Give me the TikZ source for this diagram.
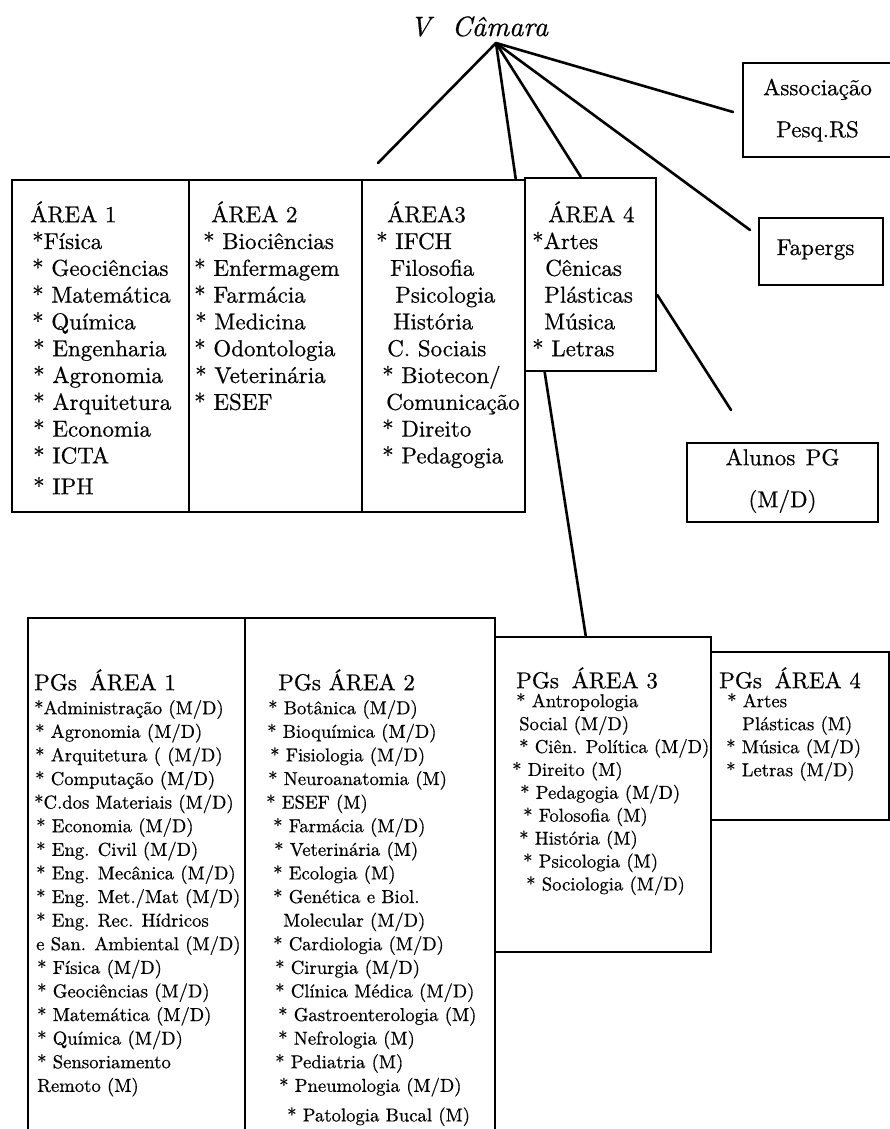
\documentclass[tikz,border=0pt]{standalone}
\usepackage{fontspec}
\setmainfont{lmroman10-regular.otf}[ItalicFont=lmroman10-italic.otf, FakeBold=0.6]
\usetikzlibrary{calc}
\newcommand\ts{\rule{0pt}{24pt}}
\begin{document}
\begin{tikzpicture}[x=1pt,y=-1pt]
\tikzset{
 bx/.style={draw=black,line width=2.6pt,inner sep=0pt},
 ln/.style={line width=2.6pt,line cap=round},
 big/.style={font=\fontsize{23}{26.8}\selectfont},
 small/.style={font=\fontsize{18.7}{23.6}\selectfont},
 txt/.style={anchor=north west,inner sep=0pt,align=left},
}
\fill[white] (0,0) rectangle (890,1129);
\useasboundingbox (0,0) rectangle (890,1129);
\clip (0,0) rectangle (890,1129);

% title
\node[anchor=base,inner sep=0pt,font=\fontsize{28}{32}\selectfont\itshape] (title) at (479,36) {V\hspace{0.75em}Câmara};
\coordinate (apex) at (496,43);

% area boxes
\node[bx,minimum width=177pt,minimum height=332pt] (a1) at (100.5,346) {};
\node[bx,minimum width=173pt,minimum height=332pt] (a2) at (275.5,346) {};
\node[bx,minimum width=163pt,minimum height=332pt] (a3) at (443.5,346) {};
\node[bx,minimum width=131pt,minimum height=193pt] (a4) at (590.5,274.5) {};

\node[txt,big] (a1t) at (30,198) {\ts ÁREA 1\\
\hspace*{2pt}*Física\\
\hspace*{2pt}* Geociências\\
\hspace*{2pt}* Matemática\\
\hspace*{2pt}* Química\\
\hspace*{3pt}* Engenharia\\
\hspace*{3pt}* Agronomia\\
\hspace*{3pt}* Arquitetura\\
\hspace*{3pt}* Economia\\
\hspace*{3pt}* ICTA\\[4pt]
\hspace*{3pt}* IPH};

\node[txt,big] (a2t) at (194,198) {\ts\hspace*{17pt}ÁREA 2\\
\hspace*{9pt}* Biociências\\
* Enfermagem\\
* Farmácia\\
\hspace*{1pt}* Medicina\\
* Odontologia\\
\hspace*{1pt}* Veterinária\\
* ESEF};

\node[txt,big] (a3t) at (376,198) {\ts\hspace*{11pt}ÁREA3\\
* IFCH\\
\hspace*{14pt}Filosofia\\
\hspace*{19pt}Psicologia\\
\hspace*{17pt}História\\
\hspace*{11pt}C. Sociais\\
\hspace*{6pt}* Biotecon/\\
\hspace*{10pt}Comunicação\\
\hspace*{6pt}* Direito\\
\hspace*{6pt}* Pedagogia};

\node[txt,big] (a4t) at (532,198) {\ts\hspace*{16pt}ÁREA 4\\
*Artes\\
\hspace*{13pt}Cênicas\\
\hspace*{12pt}Plásticas\\
\hspace*{12pt}Música\\
* Letras};

% right boxes
\node[bx,minimum width=157pt,minimum height=94pt] (assoc) at (821.5,110) {};
\node[txt,anchor=north,align=center,font=\fontsize{23}{42}\selectfont] (assoct) at (817.5,71) {\ts Associação\\Pesq.RS};
\node[bx,minimum width=124pt,minimum height=67pt] (fap) at (821,251.5) {};
\node[anchor=base,inner sep=0pt,big] (fapt) at (815.5,255) {Fapergs};
\node[bx,minimum width=191pt,minimum height=79pt] (alunos) at (782.5,482.5) {};
\node[txt,anchor=north,align=center,font=\fontsize{23}{42}\selectfont] (alunost) at (782.5,441) {\ts Alunos\hspace{0.45em}PG\\(M/D)};

% PG boxes
\node[bx,minimum width=217pt,minimum height=522pt] (pg1) at (136.5,879) {};
\node[bx,minimum width=250pt,minimum height=522pt] (pg2) at (370,879) {};
\node[bx,minimum width=216pt,minimum height=315pt] (pg3) at (603,794.5) {};
\node[bx,minimum width=178pt,minimum height=168pt] (pg4) at (800,736) {};

\node[txt,big] (p1h) at (34,666) {\ts PGs\hspace{0.55em}ÁREA 1};
\node[txt,small] (p1l) at (34,690) {\ts *Administração (M/D)\\
\hspace*{1pt}* Agronomia (M/D)\\
\hspace*{1pt}* Arquitetura ( (M/D)\\
\hspace*{1pt}* Computação (M/D)\\
*C.dos Materiais (M/D)\\
\hspace*{2pt}* Economia (M/D)\\
\hspace*{2pt}* Eng. Civil (M/D)\\
\hspace*{2pt}* Eng. Mecânica (M/D)\\
\hspace*{2pt}* Eng. Met./Mat (M/D)\\
\hspace*{2pt}* Eng. Rec. Hídricos\\
\hspace*{2pt}e San. Ambiental (M/D)\\
\hspace*{3pt}* Física (M/D)\\
\hspace*{3pt}* Geociências (M/D)\\
\hspace*{3pt}* Matemática (M/D)\\
\hspace*{3pt}* Química (M/D)\\
\hspace*{3pt}* Sensoriamento\\
\hspace*{3pt}Remoto (M)};

\node[txt,big] (p2h) at (278,666) {\ts PGs ÁREA 2};
\node[txt,small] (p2l) at (266,690) {\ts\hspace*{2pt}* Botânica (M/D)\\
\hspace*{1pt}* Bioquímica (M/D)\\
\hspace*{4pt}* Fisiologia (M/D)\\
\hspace*{2pt}* Neuroanatomia (M)\\
* ESEF (M)\\
\hspace*{7pt}* Farmácia (M/D)\\
\hspace*{8pt}* Veterinária (M)\\
\hspace*{7pt}* Ecologia (M)\\
\hspace*{7pt}* Genética e Biol.\\
\hspace*{17pt}Molecular (M/D)\\
\hspace*{7pt}* Cardiologia (M/D)\\
\hspace*{9pt}* Cirurgia (M/D)\\
\hspace*{9pt}* Clínica Médica (M/D)\\
\hspace*{12pt}* Gastroenterologia (M)\\
\hspace*{12pt}* Nefrologia (M)\\
\hspace*{9pt}* Pediatria (M)\\
\hspace*{13pt}* Pneumologia (M/D)\\[6pt]
\hspace*{21pt}* Patologia Bucal (M)};

\node[txt,big] (p3h) at (516,664) {\ts PGs\hspace{0.55em}ÁREA 3};
\node[txt,font=\fontsize{18.7}{22.9}\selectfont] (p3l) at (512,683) {\ts\hspace*{4pt}* Antropologia\\
\hspace*{7pt}Social (M/D)\\
\hspace*{7pt}* Ciên. Política (M/D)\\
* Direito (M)\\
\hspace*{8pt}* Pedagogia (M/D)\\
\hspace*{11pt}* Folosofia (M)\\
\hspace*{7pt}* História (M)\\
\hspace*{11pt}* Psicologia (M)\\
\hspace*{14pt}* Sociologia (M/D)};

\node[txt,big] (p4h) at (719,664) {\ts PGs\hspace{0.55em}ÁREA 4};
\node[txt,font=\fontsize{18.7}{23}\selectfont] (p4l) at (726,683) {\ts\hspace*{1pt}* Artes\\
\hspace*{16pt}Plásticas (M)\\
* Música (M/D)\\
* Letras (M/D)};

% connectors
\coordinate (e1) at (378,163);
\coordinate (e4) at (733,112);
\coordinate (e5) at (750,230);
\coordinate (e6) at (731,410);
\draw[ln] (apex) -- (e1);
\draw[ln] (apex) -- ([xshift=155pt]a3.north west);
\draw[ln] (apex) -- ([xshift=57pt]a4.north west);
\draw[ln] (apex) -- (e4);
\draw[ln] (apex) -- (e5);
\draw[ln] ([yshift=-20.5pt]a4.east) -- (e6);
\draw[ln] ([xshift=21pt]a4.south west) -- ([xshift=92pt]pg3.north west);
\end{tikzpicture}
\end{document}
